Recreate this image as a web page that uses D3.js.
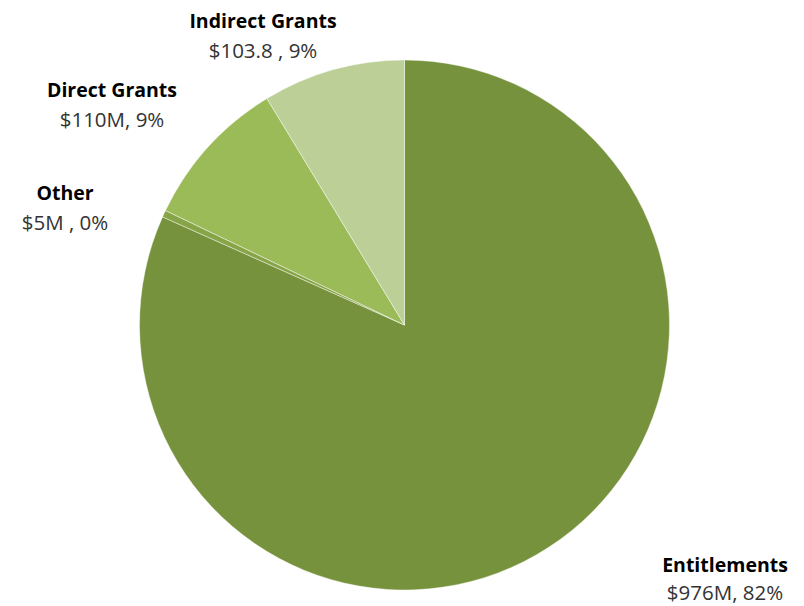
<!DOCTYPE html>
<html>
<head>
<meta charset="utf-8">
<script src="https://cdn.jsdelivr.net/npm/d3@7"></script>
<style>
  html, body { margin: 0; padding: 0; background: #fff; }
  svg { display: block; }
</style>
</head>
<body>
<svg id="chart" width="804" height="606"></svg>
<script>
// ---- data ----
const categories = ["Entitlements", "Other", "Direct Grants", "Indirect Grants"];
const values = [976, 5, 110, 103.8];
const valueLabels = ["$976M, 82%", "$5M , 0%", "$110M, 9%", "$103.8 , 9%"];

// ---- styles / layout (not data) ----
const colors = ["#76923c", "#87a447", "#9bbb59", "#bbcf96"];
const labelPos = [ [725, 572], [65, 200], [112, 97], [263, 28] ]; // title baseline positions
const lineGap = [28, 30, 30, 30];
const W = 804, H = 606;
const cx = 404.5, cy = 325, R = 265;

const svg = d3.select("#chart");
const g = svg.append("g").attr("transform", `translate(${cx},${cy})`);

const data = categories.map((c, i) => ({ name: c, value: values[i], label: valueLabels[i], i }));

const pie = d3.pie().sort(null).value(d => d.value).startAngle(0).endAngle(2 * Math.PI);
const arc = d3.arc().innerRadius(0).outerRadius(R);

g.selectAll("path.slice")
  .data(pie(data))
  .join("path")
  .attr("class", "slice")
  .attr("d", arc)
  .attr("fill", d => colors[d.data.i])
  .attr("stroke", "rgba(255,255,255,0.55)")
  .attr("stroke-width", 0.8)
  .attr("stroke-linejoin", "round");

const labels = svg.selectAll("g.lbl")
  .data(data)
  .join("g")
  .attr("class", "lbl")
  .attr("transform", d => `translate(${labelPos[d.i][0]},${labelPos[d.i][1]})`);

labels.append("text")
  .attr("text-anchor", "middle")
  .attr("font-family", "'Open Sans', 'Noto Sans', sans-serif")
  .attr("font-weight", "bold")
  .attr("font-size", 19.5)
  .attr("fill", "#000")
  .text(d => d.name);

labels.append("text")
  .attr("text-anchor", "middle")
  .attr("y", d => lineGap[d.i])
  .attr("font-family", "'Open Sans', 'Noto Sans', sans-serif")
  .attr("font-size", 20.5)
  .attr("fill", "#333")
  .text(d => d.label);
</script>
</body>
</html>
